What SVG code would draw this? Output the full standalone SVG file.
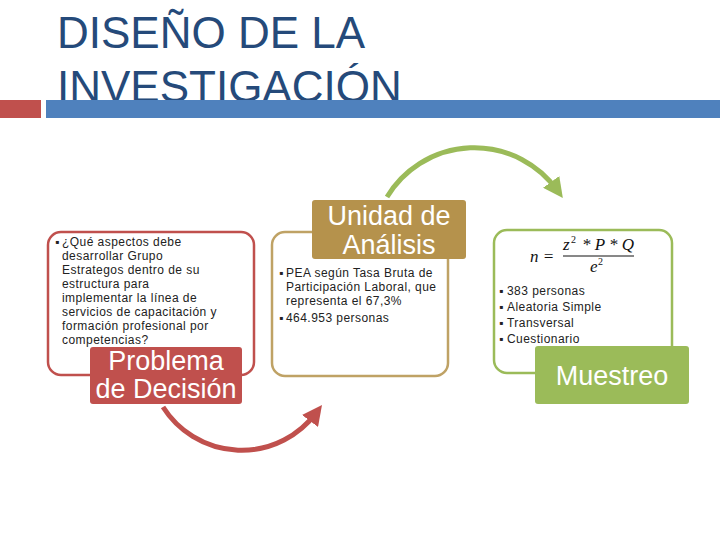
<svg xmlns="http://www.w3.org/2000/svg" width="720" height="540" viewBox="0 0 720 540">
<style>
.title{font-family:"Liberation Sans",Arial,sans-serif;font-size:44px;fill:#254A7A}
.body{font-family:"Liberation Sans",Arial,sans-serif;font-size:12px;letter-spacing:0.45px;fill:#222}
.lbl{font-family:"Liberation Sans",Arial,sans-serif;font-size:27px;fill:#fff;text-anchor:middle}
.math{font-family:"Liberation Serif","Times New Roman",serif;font-style:italic;font-size:17px;fill:#111}
.sup{font-family:"Liberation Serif","Times New Roman",serif;font-size:10px;fill:#111}
</style>
<defs>
<marker id="ag" markerWidth="4" markerHeight="4" refX="2" refY="2" orient="auto" markerUnits="strokeWidth"><path d="M0,0 L4,2 L0,4 Z" fill="#9BBB59"/></marker>
<marker id="ar" markerWidth="4" markerHeight="4" refX="2" refY="2" orient="auto" markerUnits="strokeWidth"><path d="M0,0 L4,2 L0,4 Z" fill="#C0504D"/></marker>
</defs>
<rect width="720" height="540" fill="#fff"/>
<g id="title">
<text class="title" x="57" y="48">DISEÑO DE LA</text>
<text class="title" x="57" y="102">INVESTIGACIÓN</text>
<rect x="0" y="100" width="41" height="18" fill="#C0504D"/>
<rect x="46" y="100" width="674" height="18" fill="#4F81BD"/>
</g>
<g id="connectors" fill="none" stroke-width="5">
<path d="M387,197 A102,102 0 0 1 557,190" stroke="#9BBB59" marker-end="url(#ag)"/>
<path d="M163,407 A93,93 0 0 0 316,413" stroke="#C0504D" marker-end="url(#ar)"/>
</g>
<g id="problema">
<rect x="48" y="232" width="206" height="143" rx="13" fill="#fff" stroke="#C0504D" stroke-width="2.5"/>
<text class="body" x="55" y="246">▪</text>
<text class="body" x="62" y="246">¿Qué aspectos debe</text>
<text class="body" x="62" y="260">desarrollar Grupo</text>
<text class="body" x="62" y="274">Estrategos dentro de su</text>
<text class="body" x="62" y="288">estructura para</text>
<text class="body" x="62" y="302">implementar la línea de</text>
<text class="body" x="62" y="316">servicios de capacitación y</text>
<text class="body" x="62" y="330">formación profesional por</text>
<text class="body" x="62" y="344">competencias?</text>
<rect x="90" y="347" width="152" height="57" rx="3" fill="#C0504D"/>
<text class="lbl" x="166" y="370">Problema</text>
<text class="lbl" x="166" y="398">de Decisión</text>
</g>
<g id="unidad">
<rect x="272" y="232" width="176" height="144" rx="13" fill="#fff" stroke="#BFA265" stroke-width="2.5"/>
<text class="body" x="279" y="277">▪</text>
<text class="body" x="286" y="277">PEA  según Tasa Bruta de</text>
<text class="body" x="286" y="291">Participación Laboral, que</text>
<text class="body" x="286" y="305">representa el 67,3%</text>
<text class="body" x="279" y="322">▪</text>
<text class="body" x="286" y="322">464.953 personas</text>
<rect x="312" y="200" width="154" height="59" rx="3" fill="#B5924C"/>
<text class="lbl" x="389" y="225">Unidad de</text>
<text class="lbl" x="389" y="254">Análisis</text>
</g>
<g id="muestreo">
<rect x="494" y="230" width="178" height="143" rx="13" fill="#fff" stroke="#9BBB59" stroke-width="2.5"/>
<text class="math" x="530" y="262">n =</text>
<text class="math" x="563" y="250">z</text><text class="sup" x="571" y="243">2</text>
<text class="math" x="582" y="250">* P * Q</text>
<line x1="563" y1="256" x2="634" y2="256" stroke="#111" stroke-width="1"/>
<text class="math" x="590" y="272">e</text><text class="sup" x="598" y="265">2</text>
<text class="body" x="499" y="295">▪</text>
<text class="body" x="507" y="295">383 personas</text>
<text class="body" x="499" y="311">▪</text>
<text class="body" x="507" y="311">Aleatoria Simple</text>
<text class="body" x="499" y="327">▪</text>
<text class="body" x="507" y="327">Transversal</text>
<text class="body" x="499" y="343">▪</text>
<text class="body" x="507" y="343">Cuestionario</text>
<rect x="535" y="346" width="154" height="58" rx="3" fill="#9BBB59"/>
<text class="lbl" x="612" y="385">Muestreo</text>
</g>
</svg>
